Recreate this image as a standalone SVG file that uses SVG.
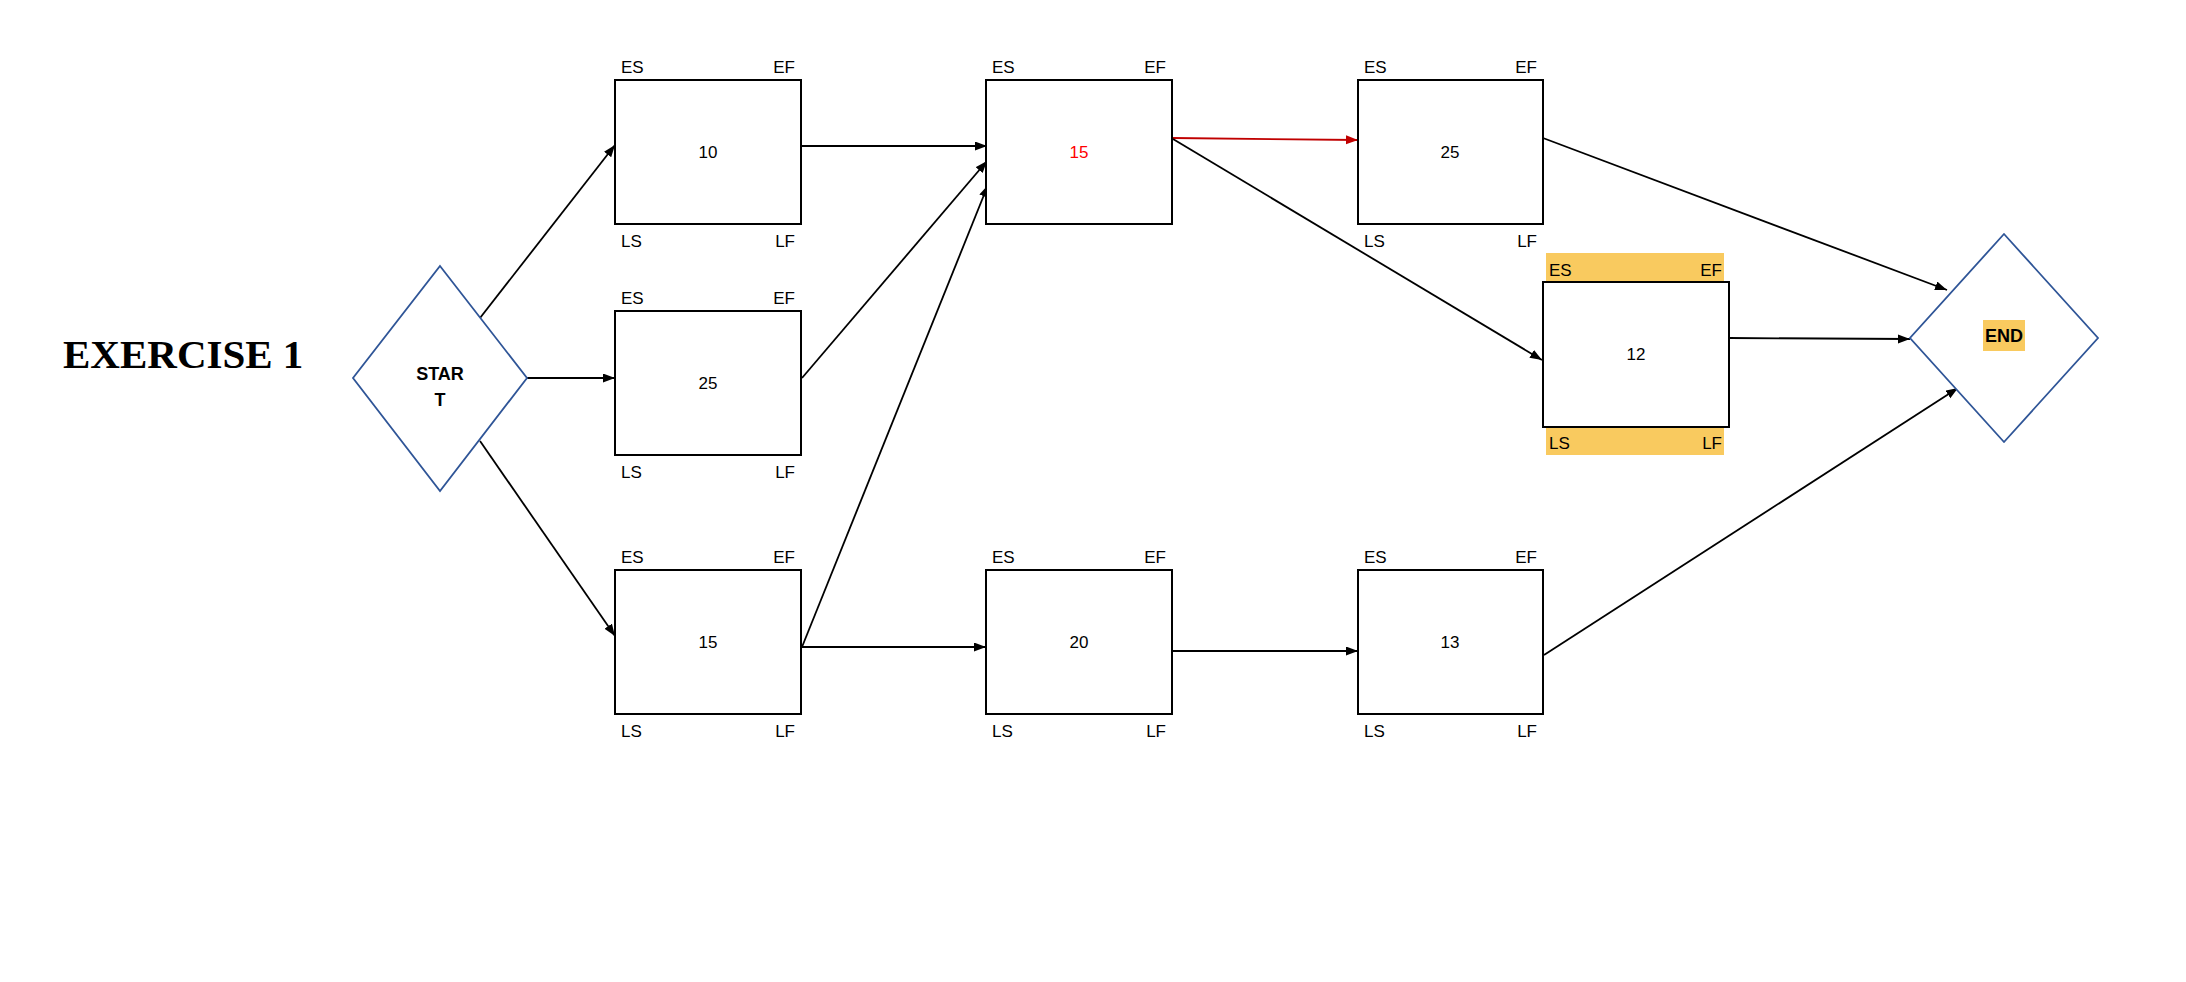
<svg xmlns="http://www.w3.org/2000/svg" width="2186" height="982" viewBox="0 0 2186 982">
<style>
.box{fill:#fff;stroke:#000;stroke-width:2}
.dia{fill:#fff;stroke:#2F5597;stroke-width:1.8}
.lbl{font-family:"Liberation Sans Narrow","Liberation Sans",Arial,sans-serif;font-size:17px;fill:#000}
.num{font-family:"Liberation Sans",Arial,sans-serif;font-size:17px;fill:#000;text-anchor:middle}
.bold{font-family:"Liberation Sans",Arial,sans-serif;font-size:18px;font-weight:bold;fill:#000;text-anchor:middle}
.title{font-family:"Liberation Serif","Times New Roman",serif;font-size:41px;font-weight:bold;fill:#000}
.c{fill:none;stroke:#000;stroke-width:1.8;marker-end:url(#ah)}
.cr{fill:none;stroke:#C00000;stroke-width:1.8;marker-end:url(#ahr)}
.hl{fill:#F9CA5F}
</style>
<defs>
<marker id="ah" markerUnits="userSpaceOnUse" markerWidth="13" markerHeight="10" refX="12" refY="4.5" orient="auto"><path d="M0,0 L12,4.5 L0,9 z" fill="#000"/></marker>
<marker id="ahr" markerUnits="userSpaceOnUse" markerWidth="13" markerHeight="10" refX="12" refY="4.5" orient="auto"><path d="M0,0 L12,4.5 L0,9 z" fill="#C00000"/></marker>
</defs>
<rect width="2186" height="982" fill="#fff"/>
<text class="title" x="63" y="368">EXERCISE 1</text>

<g id="connectors">
<line class="c" x1="480" y1="318" x2="615" y2="145"/>
<line class="c" x1="527" y1="378" x2="615" y2="378"/>
<line class="c" x1="480" y1="441" x2="615" y2="636"/>
<line class="c" x1="802" y1="146" x2="987" y2="146"/>
<line class="c" x1="802" y1="378" x2="987" y2="161"/>
<line class="c" x1="802" y1="647" x2="988" y2="185"/>
<line class="cr" x1="1173" y1="138" x2="1358" y2="140"/>
<line class="c" x1="1173" y1="139" x2="1542" y2="360"/>
<line class="c" x1="1543" y1="138" x2="1947" y2="290"/>
<line class="c" x1="1729" y1="338" x2="1910" y2="339"/>
<line class="c" x1="1544" y1="655" x2="1958" y2="388"/>
<line class="c" x1="802" y1="647" x2="986" y2="647"/>
<line class="c" x1="1172" y1="651" x2="1358" y2="651"/>
</g>

<g id="start">
<polygon class="dia" points="440,266 527,378 440,491 353,378"/>
<text class="bold" x="440" y="380">STAR</text>
<text class="bold" x="440" y="406">T</text>
</g>

<g id="end">
<polygon class="dia" points="2004,234 2098,338 2004,442 1910,338"/>
<rect class="hl" x="1983" y="320" width="42" height="31"/>
<text class="bold" x="2004" y="342">END</text>
</g>

<g id="nodeA">
<rect class="box" x="615" y="80" width="186" height="144"/>
<text class="num" x="708" y="158">10</text>
<text class="lbl" x="621" y="73">ES</text><text class="lbl" x="795" y="73" text-anchor="end">EF</text>
<text class="lbl" x="621" y="247">LS</text><text class="lbl" x="795" y="247" text-anchor="end">LF</text>
</g>

<g id="nodeB">
<rect class="box" x="615" y="311" width="186" height="144"/>
<text class="num" x="708" y="389">25</text>
<text class="lbl" x="621" y="304">ES</text><text class="lbl" x="795" y="304" text-anchor="end">EF</text>
<text class="lbl" x="621" y="478">LS</text><text class="lbl" x="795" y="478" text-anchor="end">LF</text>
</g>

<g id="nodeC">
<rect class="box" x="615" y="570" width="186" height="144"/>
<text class="num" x="708" y="648">15</text>
<text class="lbl" x="621" y="563">ES</text><text class="lbl" x="795" y="563" text-anchor="end">EF</text>
<text class="lbl" x="621" y="737">LS</text><text class="lbl" x="795" y="737" text-anchor="end">LF</text>
</g>

<g id="nodeD">
<rect class="box" x="986" y="80" width="186" height="144"/>
<text class="num" x="1079" y="158" style="fill:#FF0000">15</text>
<text class="lbl" x="992" y="73">ES</text><text class="lbl" x="1166" y="73" text-anchor="end">EF</text>
</g>

<g id="nodeE">
<rect class="box" x="1358" y="80" width="185" height="144"/>
<text class="num" x="1450" y="158">25</text>
<text class="lbl" x="1364" y="73">ES</text><text class="lbl" x="1537" y="73" text-anchor="end">EF</text>
<text class="lbl" x="1364" y="247">LS</text><text class="lbl" x="1537" y="247" text-anchor="end">LF</text>
</g>

<g id="nodeF">
<rect class="hl" x="1546" y="253" width="178" height="29"/>
<rect class="hl" x="1546" y="427" width="178" height="28"/>
<rect class="box" x="1543" y="282" width="186" height="145"/>
<text class="num" x="1636" y="360">12</text>
<text class="lbl" x="1549" y="276">ES</text><text class="lbl" x="1722" y="276" text-anchor="end">EF</text>
<text class="lbl" x="1549" y="449">LS</text><text class="lbl" x="1722" y="449" text-anchor="end">LF</text>
</g>

<g id="nodeG">
<rect class="box" x="986" y="570" width="186" height="144"/>
<text class="num" x="1079" y="648">20</text>
<text class="lbl" x="992" y="563">ES</text><text class="lbl" x="1166" y="563" text-anchor="end">EF</text>
<text class="lbl" x="992" y="737">LS</text><text class="lbl" x="1166" y="737" text-anchor="end">LF</text>
</g>

<g id="nodeH">
<rect class="box" x="1358" y="570" width="185" height="144"/>
<text class="num" x="1450" y="648">13</text>
<text class="lbl" x="1364" y="563">ES</text><text class="lbl" x="1537" y="563" text-anchor="end">EF</text>
<text class="lbl" x="1364" y="737">LS</text><text class="lbl" x="1537" y="737" text-anchor="end">LF</text>
</g>
</svg>
